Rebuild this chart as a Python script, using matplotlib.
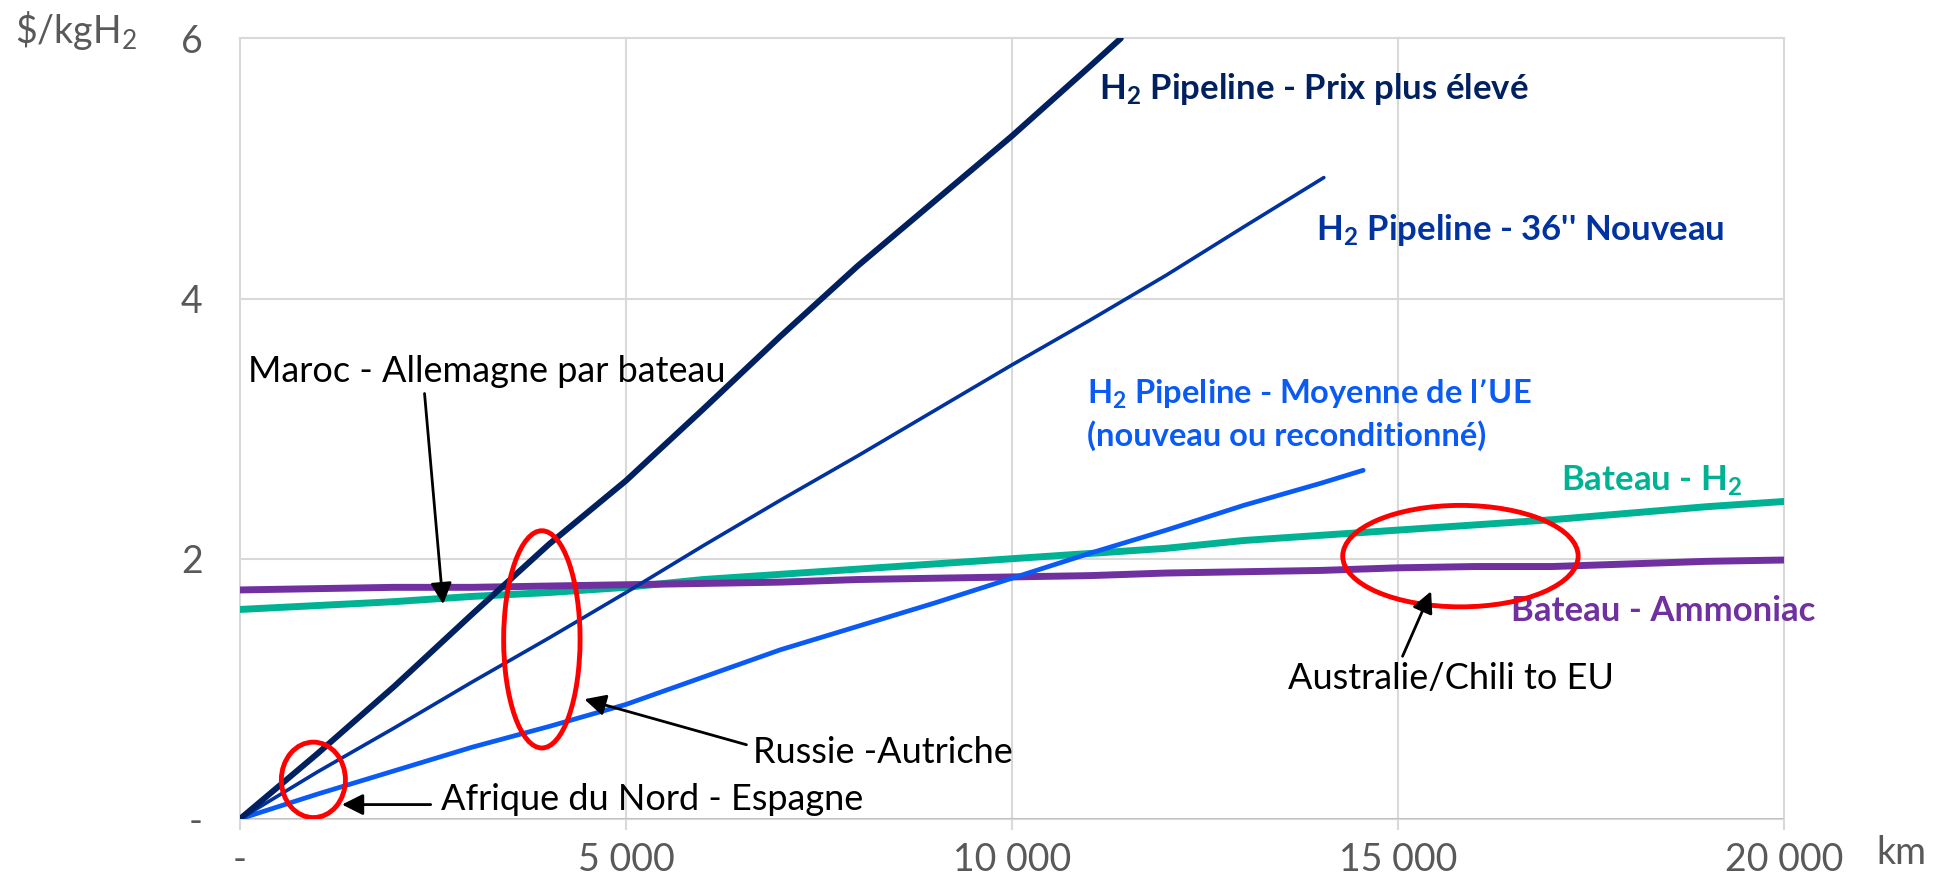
import matplotlib
matplotlib.use("Agg")
import matplotlib.pyplot as plt
from matplotlib.patches import Ellipse

plt.rcParams['font.family'] = ['Lato', 'DejaVu Sans']
plt.rcParams['mathtext.default'] = 'regular'

# distance (km) vs transport cost ($/kgH2)
km_prix = [0, 1000, 2000, 3000, 4000, 5000, 6000, 7000, 8000, 9000, 10000, 11000, 11410]
cost_prix = [0, 0.50, 1.02, 1.57, 2.11, 2.60, 3.15, 3.71, 4.25, 4.75, 5.25, 5.78, 6.0]

km_36 = [0, 1000, 2000, 3000, 4000, 5000, 6000, 7000, 8000, 9000, 10000, 11000, 12000, 13000, 14040]
cost_36 = [0, 0.36, 0.70, 1.05, 1.39, 1.74, 2.10, 2.45, 2.79, 3.14, 3.49, 3.83, 4.18, 4.55, 4.93]

km_ue = [0, 1000, 2000, 3000, 4000, 5000, 6000, 7000, 8000, 9000, 10000, 11000, 12000, 13000, 14000, 14550]
cost_ue = [0, 0.19, 0.37, 0.55, 0.71, 0.88, 1.09, 1.30, 1.48, 1.66, 1.85, 2.04, 2.22, 2.41, 2.58, 2.68]

km_ship = [0, 1000, 2000, 3000, 4000, 5000, 6000, 7000, 8000, 9000, 10000,
           11000, 12000, 13000, 14000, 15000, 16000, 17000, 18000, 19000, 20000]
cost_ship_h2 = [1.61, 1.64, 1.67, 1.71, 1.74, 1.78, 1.84, 1.88, 1.92, 1.96, 2.00,
                2.04, 2.08, 2.14, 2.18, 2.22, 2.26, 2.30, 2.35, 2.40, 2.44]
cost_ship_nh3 = [1.76, 1.77, 1.78, 1.78, 1.79, 1.80, 1.81, 1.82, 1.84, 1.85, 1.86,
                 1.87, 1.89, 1.90, 1.91, 1.93, 1.94, 1.94, 1.96, 1.98, 1.99]

x_ticks = [0, 5000, 10000, 15000, 20000]
x_labels = ['-', '5 000', '10 000', '15 000', '20 000']
y_ticks = [0, 2, 4, 6]
y_labels = ['-', '2', '4', '6']

navy = '#002060'
blue36 = '#0033A0'
blue_ue = '#0A5AF5'
green = '#00B294'
purple = '#7030A0'
grey = '#595959'

fig = plt.figure(figsize=(19.39, 8.93), dpi=100)
ax = fig.add_axes([0.1238, 0.083, 0.920 - 0.1238, 0.957 - 0.083])

ax.plot(km_ship, cost_ship_h2, color=green, lw=5, solid_capstyle='round', zorder=3)
ax.plot(km_ship, cost_ship_nh3, color=purple, lw=5, solid_capstyle='round', zorder=3)
ax.plot(km_ue, cost_ue, color=blue_ue, lw=3.4, solid_capstyle='round', zorder=4)
ax.plot(km_36, cost_36, color=blue36, lw=2.6, solid_capstyle='round', zorder=4)
ax.plot(km_prix, cost_prix, color=navy, lw=4.3, solid_capstyle='round', zorder=4)

ax.set_xlim(0, 20000)
ax.set_ylim(0, 6)
ax.set_xticks(x_ticks)
ax.set_xticklabels(x_labels)
ax.set_yticks(y_ticks)
ax.set_yticklabels(y_labels)
ax.grid(True, color='#d9d9d9', lw=1.5)
for gl in ax.get_xgridlines() + ax.get_ygridlines():
    gl.set_clip_on(False)
for s in ax.spines.values():
    s.set_visible(False)
ax.axhline(0, color='#bfbfbf', lw=2, zorder=2)
ax.tick_params(axis='x', length=8, width=1.5, color='#d9d9d9', pad=9, labelsize=27, labelcolor=grey)
ax.tick_params(axis='y', length=0, pad=27, labelsize=27, labelcolor=grey)

ax.text(1.06, -0.044, 'km', transform=ax.transAxes, fontsize=27, color=grey, va='center', ha='left')
fig.text(15 / 1939, 1 - 30 / 893, r'\$/kgH$_2$', fontsize=27, color=grey, va='center', ha='left')

# series labels
ax.text(11130, 5.61, r'H$_2$ Pipeline - Prix plus élevé', color=navy, fontsize=25, fontweight='bold', va='center')
ax.text(13940, 4.53, r"H$_2$ Pipeline - 36'' Nouveau", color=blue36, fontsize=25, fontweight='bold', va='center')
ax.text(10970, 3.11, 'H$_2$ Pipeline - Moyenne de l’UE\n(nouveau ou reconditionné)', color=blue_ue,
        fontsize=23.5, fontweight='bold', va='center', linespacing=1.36)
ax.text(17110, 2.6, r'Bateau - H$_2$', color=green, fontsize=25, fontweight='bold', va='center')
ax.text(16460, 1.60, 'Bateau - Ammoniac', color=purple, fontsize=25, fontweight='bold', va='center')

# red circles
for (cx, cy, w, h) in [(950, 0.30, 830, 0.58), (3910, 1.38, 990, 1.67), (15810, 2.02, 3050, 0.78)]:
    ax.add_patch(Ellipse((cx, cy), w, h, fill=False, edgecolor='#FF0000', lw=3.5, zorder=6))

# route annotations
arrow = dict(arrowstyle='-|>', color='black', lw=2, mutation_scale=32, shrinkA=0, shrinkB=0)
ax.text(100, 3.44, 'Maroc - Allemagne par bateau', fontsize=26, va='center')
ax.annotate('', xy=(2630, 1.65), xytext=(2390, 3.27), arrowprops=arrow, zorder=7)
ax.text(6640, 0.51, 'Russie -Autriche', fontsize=26, va='center')
ax.annotate('', xy=(4460, 0.92), xytext=(6560, 0.57), arrowprops=arrow, zorder=7)
ax.text(2600, 0.15, 'Afrique du Nord - Espagne', fontsize=26, va='center')
ax.annotate('', xy=(1320, 0.11), xytext=(2470, 0.11), arrowprops=arrow, zorder=7)
ax.text(13570, 1.08, 'Australie/Chili to EU', fontsize=26, va='center')
ax.annotate('', xy=(15430, 1.75), xytext=(15060, 1.25), arrowprops=arrow, zorder=7)

fig.savefig('out.png', dpi=100)
